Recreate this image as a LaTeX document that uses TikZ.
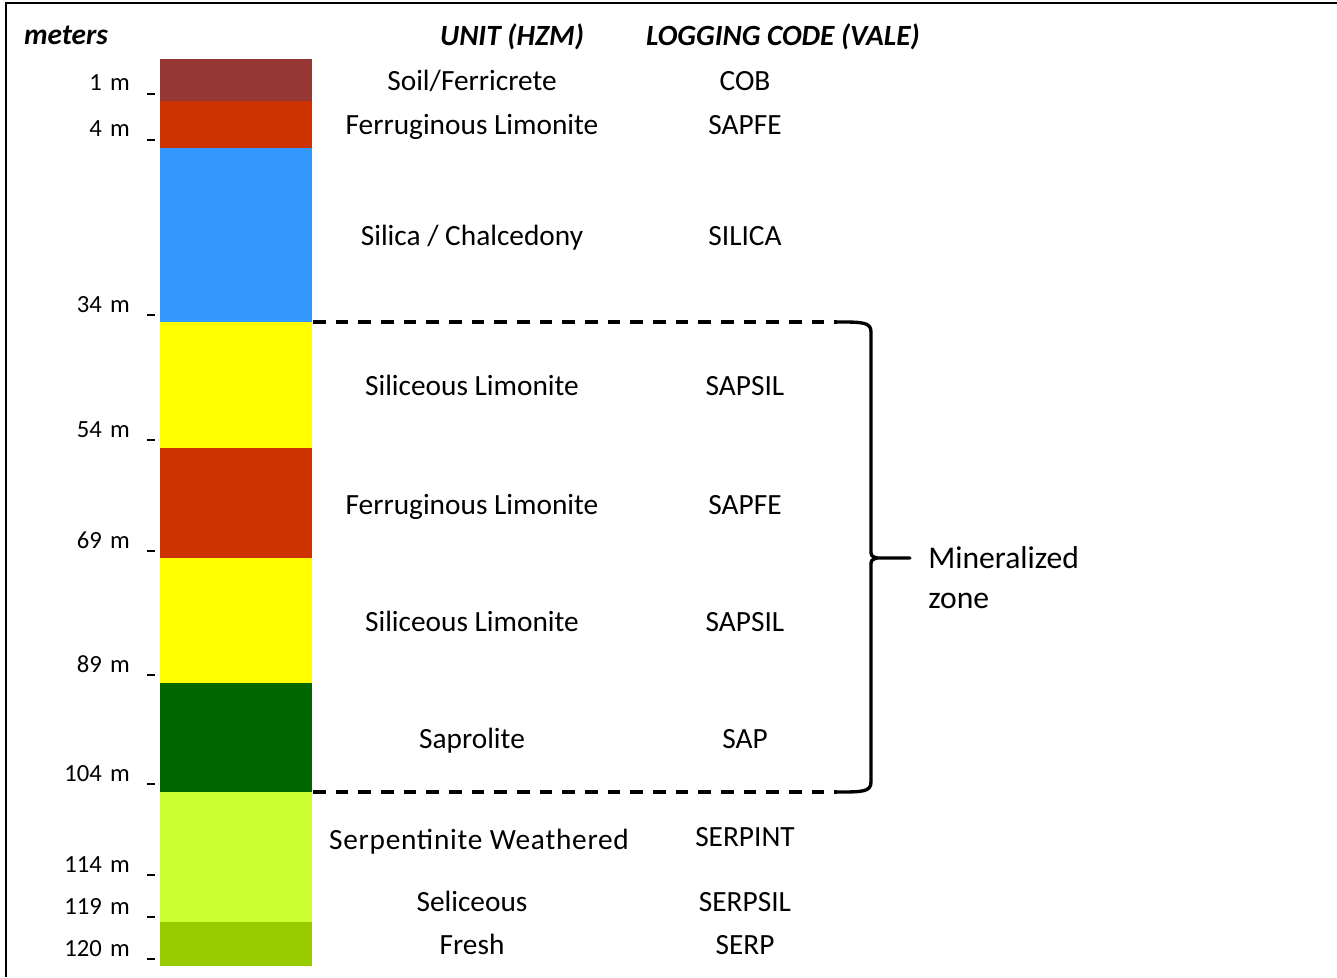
\documentclass[tikz,border=0pt]{standalone}
\usepackage{fontspec}
\setmainfont{Carlito}
\definecolor{soilred}{HTML}{953735}
\definecolor{ferred}{HTML}{CC3300}
\definecolor{silblue}{HTML}{3399FF}
\definecolor{sapyel}{HTML}{FFFF00}
\definecolor{sapgreen}{HTML}{006600}
\definecolor{serplight}{HTML}{CCFF33}
\definecolor{serpolive}{HTML}{99CC00}
\begin{document}
\begin{tikzpicture}[x=0.75pt,y=-0.75pt,
  unit/.style={font=\fontsize{22}{26}\selectfont, anchor=base, inner sep=0pt},
  depth/.style={font=\fontsize{18.5}{22}\selectfont, anchor=base east, inner sep=0pt},
  head/.style={font=\fontsize{22}{26}\selectfont\bfseries\itshape, anchor=base, inner sep=0pt},
  note/.style={font=\fontsize{23.7}{29}\selectfont, anchor=base west, inner sep=0pt},
  tickmark/.style={line width=1.5pt},
  frameline/.style={line width=2.2pt},
  zoneline/.style={line width=2.6pt, dash pattern=on 9.5pt off 7.5pt},
  braceline/.style={line width=2.5pt, line cap=round, line join=round}
]
\useasboundingbox (0,0) rectangle (1337,977);
% frame
\draw[frameline] (1337,3) -- (6,3) -- (6,977);
% column layers
\fill[soilred]   (160,59)  rectangle (312,101);
\fill[ferred]    (160,101) rectangle (312,148);
\fill[silblue]   (160,148) rectangle (312,322);
\fill[sapyel]    (160,322) rectangle (312,448);
\fill[ferred]    (160,448) rectangle (312,558);
\fill[sapyel]    (160,558) rectangle (312,683);
\fill[sapgreen]  (160,683) rectangle (312,792);
\fill[serplight] (160,792) rectangle (312,922);
\fill[serpolive] (160,922) rectangle (312,966);
% headers
\node[head] (hm) at (66,45) {meters};
\node[head] (hu) at (512,46) {UNIT (HZM)};
\node[head] (hl) at (783,46) {LOGGING CODE (VALE)};
% depth labels
\foreach \d/\b [count=\i] in {1/91,4/137,34/312,54/437,69/548,89/672,104/781,114/872,119/914,120/956}{
  \node[depth] (d\i) at (130,\b) {\d\hspace{0.33em}m};
  \draw[tickmark] (147,\b+3) -- (155,\b+3);
}
% units
\node[unit] (u1)  at (472,91)  {Soil/Ferricrete};
\node[unit] (u2)  at (472,135) {Ferruginous Limonite};
\node[unit] (u3)  at (472,245) {Silica / Chalcedony};
\node[unit] (u4)  at (472,395) {Siliceous Limonite};
\node[unit] (u5)  at (472,514) {Ferruginous Limonite};
\node[unit] (u6)  at (472,631) {Siliceous Limonite};
\node[unit] (u7)  at (472,748) {Saprolite};
\node[unit] (u8)  at (479,849) {\addfontfeature{LetterSpace=2.5}Serpentinite Weathered};
\node[unit] (u9)  at (472,911) {Seliceous};
\node[unit] (u10) at (472,954) {Fresh};
% codes
\node[unit] (c1)  at (745,91)  {COB};
\node[unit] (c2)  at (745,135) {SAPFE};
\node[unit] (c3)  at (745,245) {SILICA};
\node[unit] (c4)  at (745,395) {SAPSIL};
\node[unit] (c5)  at (745,514) {SAPFE};
\node[unit] (c6)  at (745,631) {SAPSIL};
\node[unit] (c7)  at (745,748) {SAP};
\node[unit] (c8)  at (745,846) {SERPINT};
\node[unit] (c9)  at (745,911) {SERPSIL};
\node[unit] (c10) at (745,954) {SERP};
% mineralized zone bracket
\coordinate (zt0) at (313,322);
\coordinate (zt1) at (837,322);
\coordinate (zb0) at (313,792);
\coordinate (zb1) at (837,792);
\coordinate (tip) at (877,558);
\coordinate (tipend) at (910,558);
\draw[zoneline] (zt0) -- (zt1);
\draw[zoneline] (zb0) -- (zb1);
\draw[braceline] (zt1) .. controls (862,322) and (871,322) .. (871,332)
  -- (871,550) .. controls (871,556) .. (tip) -- (tipend);
\draw[braceline] (tip) .. controls (871,560) .. (871,566)
  -- (871,782) .. controls (871,792) and (862,792) .. (zb1);
\node[note] (mz) at (928,568) {Mineralized};
\node[note] (mz2) at (928,608) {zone};
\end{tikzpicture}
\end{document}
